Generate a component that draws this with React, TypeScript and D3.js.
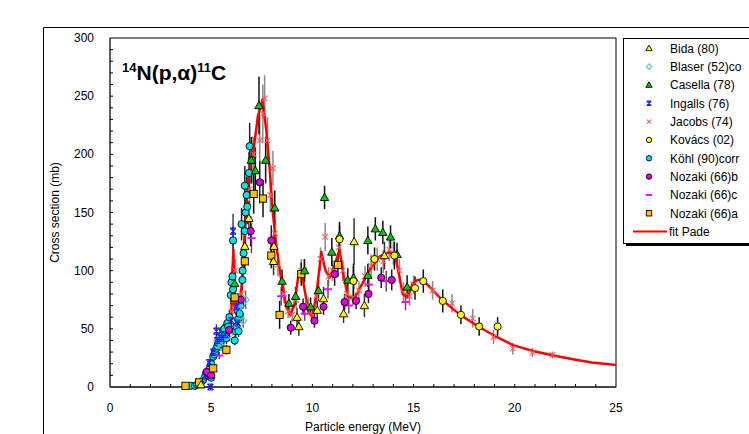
import React from "react";
import * as d3 from "d3";

// ---------- data ----------
const xTicks = [0, 5, 10, 15, 20, 25];
const yTicks = [0, 50, 100, 150, 200, 250, 300];

const fitE = [3.9, 4.2, 4.6, 5.1, 5.6, 6.0, 6.05, 6.1, 6.15, 6.3, 6.5, 6.66, 6.82, 7.07, 7.3, 7.53, 7.72, 7.89, 8.05, 8.22, 8.46, 8.71, 8.9, 9.1, 9.3, 9.45, 9.6, 9.8, 10.0, 10.2, 10.44, 10.65, 10.85, 11.1, 11.34, 11.55, 11.75, 12.0, 12.2, 12.5, 12.8, 13.3, 13.8, 14.1, 14.3, 14.46, 14.7, 14.95, 15.2, 15.45, 16.4, 17.3, 18.2, 19.1, 19.9, 20.9, 21.9, 22.8, 23.8, 25];
const fitS = [0, 1, 6, 23, 43, 63, 100, 118, 70, 58, 86, 135, 178, 201, 232, 247, 221, 187, 149, 121, 92, 69, 62, 70, 95, 100, 85, 65, 60, 80, 116, 100, 94, 105, 118, 95, 78, 76, 80, 90, 100, 112, 116, 112, 95, 80, 77, 89, 92, 92, 75, 62, 52, 43, 36, 31, 27, 24, 21, 19];

// [energy MeV, cross section mb, error mb]
const bida = [[4.5, 2, 1], [6.66, 121, 12], [6.86, 145, 15], [8.08, 108, 12], [8.1, 121, 12], [9.24, 60, 8], [9.33, 52, 8], [10.24, 66, 8], [10.55, 76, 10], [11.54, 63, 8], [12.06, 125, 20], [12.57, 70, 10], [13.56, 113, 12]];
const blaser = [[4.5, 5, 1], [5.3, 40, 4], [5.5, 35, 4], [5.9, 45, 5], [6.41, 69, 7], [6.58, 57, 6], [6.7, 75, 8]];
const casella = [[6.16, 89, 10], [6.98, 195, 20], [7.18, 186, 20], [7.36, 242, 25], [7.69, 195, 20], [8.14, 154, 15], [8.5, 91, 10], [8.84, 72, 8], [9.17, 78, 8], [9.61, 100, 10], [9.91, 69, 8], [10.3, 83, 9], [10.6, 163, 10], [10.96, 116, 12], [11.34, 130, 12], [11.75, 92, 10], [12.03, 94, 10], [12.74, 96, 10], [12.74, 126, 12], [13.11, 136, 10], [13.48, 133, 10], [13.86, 129, 10], [14.18, 114, 10], [14.68, 86, 10]];
const ingalls = [[4.5, 2, 1], [4.7, 10, 2], [4.9, 21, 3], [4.96, 0, 1], [5.1, 30, 4], [5.26, 48, 6], [5.3, 40, 5], [5.5, 42, 5], [5.7, 45, 5], [6.0, 57, 6], [6.08, 134, 15], [6.25, 69, 7], [6.3, 55, 5]];
const jacobs = [[5.9, 58, 5], [6.0, 65, 6], [6.1, 85, 8], [6.2, 100, 10], [6.5, 80, 8], [6.7, 120, 10], [6.9, 170, 15], [7.1, 200, 15], [7.4, 212, 20], [7.55, 235, 25], [7.64, 248, 20], [7.78, 212, 20], [7.92, 165, 15], [8.05, 188, 15], [8.15, 132, 12], [8.3, 105, 10], [8.6, 80, 8], [8.8, 65, 6], [9.0, 62, 6], [9.2, 75, 7], [9.45, 100, 10], [9.6, 100, 10], [9.8, 70, 7], [10.0, 62, 6], [10.2, 78, 7], [10.4, 110, 10], [10.63, 129, 12], [10.8, 95, 8], [11.0, 100, 9], [11.3, 120, 10], [11.5, 100, 9], [11.7, 80, 8], [12.0, 77, 7], [12.3, 83, 8], [12.6, 95, 9], [12.9, 104, 10], [13.2, 110, 10], [13.5, 108, 10], [13.8, 118, 10], [14.0, 115, 10], [14.3, 100, 10], [14.5, 82, 8], [14.8, 78, 8], [15.0, 88, 8], [15.94, 83, 8], [16.9, 72, 8], [17.92, 59, 8], [18.95, 43, 6], [19.9, 33, 5], [20.87, 29.5, 4], [21.86, 27.5, 3]];
const kovacs = [[11.34, 127, 12], [12.03, 91, 15], [13.07, 110, 10], [14.05, 113, 12], [15.07, 85, 10], [15.48, 91, 10], [16.44, 74, 10], [17.34, 62, 8], [18.24, 52, 8], [19.15, 52, 8]];
const kohl = [[4.0, 1, 0.5], [4.2, 1, 0.5], [4.3, 2, 1], [4.5, 4, 1], [4.6, 6, 1], [4.7, 9, 1], [4.8, 12, 2], [4.9, 15, 2], [5.0, 8, 2], [5.0, 20, 2], [5.1, 26, 3], [5.15, 28, 3], [5.2, 30, 3], [5.25, 33, 3], [5.3, 35, 4], [5.34, 38, 4], [5.42, 43, 4], [5.45, 37, 4], [5.5, 40, 4], [5.55, 45, 5], [5.59, 49, 5], [5.65, 50, 5], [5.7, 45, 5], [5.75, 42, 5], [5.8, 55, 5], [5.84, 52, 5], [5.9, 60, 6], [5.97, 79, 8], [6.0, 90, 9], [6.05, 95, 9], [6.08, 84, 8], [6.08, 126, 12], [6.16, 40, 4], [6.2, 48, 5], [6.25, 52, 5], [6.3, 66, 6], [6.33, 58, 6], [6.35, 48, 5], [6.41, 63, 6], [6.45, 70, 7], [6.5, 140, 14], [6.54, 92, 9], [6.55, 100, 10], [6.6, 115, 10], [6.66, 134, 13], [6.66, 173, 17], [6.7, 150, 15], [6.75, 165, 16], [6.78, 155, 15], [6.87, 184, 18], [6.9, 207, 20], [7.0, 195, 20]];
const nozakiB = [[4.77, 13, 2], [5.0, 10, 2], [5.89, 49, 5], [6.46, 75, 8], [6.95, 134, 13], [7.4, 176, 18], [7.97, 126, 13], [8.93, 51, 6], [9.54, 69, 7], [10.1, 57, 6], [10.55, 69, 7], [11.1, 97, 10], [11.59, 73, 7], [12.16, 74, 7], [12.77, 80, 8], [13.4, 94, 9], [13.92, 92, 9]];
const nozakiC = [[5.4, 27, 3], [6.99, 128, 13], [8.46, 78, 8], [9.62, 63, 6], [10.77, 84, 8], [11.8, 70, 7], [12.79, 88, 9], [13.65, 91, 9], [14.6, 73, 7]];
const nozakiA = [[3.73, 1, 0.5], [4.4, 4, 1], [5.1, 16, 2], [5.75, 32, 4], [6.16, 77, 8], [6.66, 108, 11], [7.1, 166, 17], [7.56, 162, 16], [7.97, 113, 11], [8.38, 62, 12], [9.45, 97, 10], [11.26, 105, 10]];

const legendLabels = ["Bida (80)", "Blaser (52)co", "Casella (78)", "Ingalls (76)", "Jacobs (74)", "Kovács (02)", "Köhl (90)corr", "Nozaki (66)b", "Nozaki (66)c", "Nozaki (66)a", "fit Pade"];

// ---------- layout ----------
const W = 749, H = 434;
const L = 110, R = 616, T = 38, B = 387;
const FONT = "'Liberation Sans', Arial, sans-serif";

type Kind = "triY" | "diamond" | "triG" | "ast" | "x" | "circY" | "circC" | "circM" | "dash" | "sq";

const seriesList: { data: number[][]; kind: Kind; bar: string }[] = [
  { data: jacobs, kind: "x", bar: "#8a8a8a" },
  { data: kohl, kind: "circC", bar: "#222" },
  { data: blaser, kind: "diamond", bar: "#666" },
  { data: ingalls, kind: "ast", bar: "#444" },
  { data: nozakiC, kind: "dash", bar: "#555" },
  { data: nozakiB, kind: "circM", bar: "#222" },
  { data: nozakiA, kind: "sq", bar: "#111" },
  { data: bida, kind: "triY", bar: "#333" },
  { data: casella, kind: "triG", bar: "#111" },
  { data: kovacs, kind: "circY", bar: "#111" },
];

function Marker({ kind, x, y, s = 1 }: { kind: Kind; x: number; y: number; s?: number }) {
  const r = 3.6 * s;
  switch (kind) {
    case "triY":
    case "triG": {
      const h = 4.2 * s;
      return (
        <path
          d={`M${x},${y - h}L${x + h},${y + h * 0.75}L${x - h},${y + h * 0.75}Z`}
          fill={kind === "triY" ? "#ffff00" : "#00cc00"}
          stroke="#000"
          strokeWidth={0.9}
        />
      );
    }
    case "diamond":
      return (
        <path
          d={`M${x},${y - r}L${x + r},${y}L${x},${y + r}L${x - r},${y}Z`}
          fill="none"
          stroke="#5fc8c8"
          strokeWidth={1.2}
        />
      );
    case "ast": {
      const a = 3 * s;
      return (
        <path
          d={`M${x - a},${y - a}L${x + a},${y + a}M${x + a},${y - a}L${x - a},${y + a}M${x - a},${y - a}L${x + a},${y - a}M${x - a},${y + a}L${x + a},${y + a}M${x},${y - a}L${x},${y + a}`}
          stroke="#1a1aff"
          strokeWidth={1.1}
          fill="none"
        />
      );
    }
    case "x": {
      const a = 2.8 * s;
      return (
        <path
          d={`M${x - a},${y - a}L${x + a},${y + a}M${x + a},${y - a}L${x - a},${y + a}`}
          stroke="#ff5a5a"
          strokeWidth={1.1}
          fill="none"
        />
      );
    }
    case "circY":
    case "circC":
    case "circM":
      return (
        <circle
          cx={x}
          cy={y}
          r={r}
          fill={kind === "circY" ? "#ffff00" : kind === "circC" ? "#00e5e5" : "#e000e0"}
          stroke="#000"
          strokeWidth={0.9}
        />
      );
    case "dash":
      return <line x1={x - 4 * s} x2={x + 4 * s} y1={y} y2={y} stroke="#ff00ff" strokeWidth={2} />;
    case "sq":
      return (
        <rect x={x - r} y={y - r} width={2 * r} height={2 * r} fill="#ffc000" stroke="#000" strokeWidth={0.9} />
      );
  }
  return null;
}

export default function App() {
  const x = d3.scaleLinear().domain([0, 25]).range([L, R]);
  const y = d3.scaleLinear().domain([0, 300]).range([B, T]);

  const fitPts: [number, number][] = fitE.map((e, i) => [e, fitS[i]]);
  const line = d3
    .line<[number, number]>()
    .x((d) => x(d[0]))
    .y((d) => y(d[1]));

  const minorX = d3.range(1, 25, 1);
  const minorY = d3.range(10, 300, 10);

  const legendKinds: Kind[] = ["triY", "diamond", "triG", "ast", "x", "circY", "circC", "circM", "dash", "sq"];
  const legY0 = 48.3, legDy = 18.33;

  return (
    <svg
      width={W}
      height={H}
      style={{ position: "absolute", left: 0, top: 0, background: "#fff" }}
      fontFamily={FONT}
    >
      <rect x={0} y={0} width={W} height={H} fill="#fff" />
      {/* outer frame */}
      <path d={`M43.5,${H}V27.5H${W}`} fill="none" stroke="#000" strokeWidth={1} />

      {/* plot frame */}
      <rect x={L} y={T} width={R - L} height={B - T} fill="#fff" stroke="#000" strokeWidth={1} />
      <line x1={L} x2={R} y1={B} y2={B} stroke="#333" strokeWidth={1.5} />
      <line x1={L} x2={L} y1={T} y2={B} stroke="#555" strokeWidth={1.5} />

      {/* ticks */}
      {minorX.map((t) => (
        <line key={"tx" + t} x1={x(t)} x2={x(t)} y1={B} y2={B - 3} stroke="#000" strokeWidth={1} />
      ))}
      {minorY.map((t) => (
        <line key={"ty" + t} x1={L} x2={L + 3} y1={y(t)} y2={y(t)} stroke="#000" strokeWidth={1} />
      ))}

      {/* tick labels */}
      {xTicks.map((t) => (
        <text key={"lx" + t} x={x(t)} y={412} fontSize={12} textAnchor="middle" fill="#000">
          {t}
        </text>
      ))}
      {yTicks.map((t) => (
        <text key={"ly" + t} x={94} y={y(t) + 4} fontSize={12} textAnchor="end" fill="#000">
          {t}
        </text>
      ))}

      {/* axis titles */}
      <text x={(L + R) / 2} y={431} fontSize={12} textAnchor="middle" fill="#000">
        Particle energy (MeV)
      </text>
      <text
        transform={`translate(59,${(T + B) / 2}) rotate(-90)`}
        fontSize={12}
        textAnchor="middle"
        fill="#000"
      >
        Cross section (mb)
      </text>

      {/* title */}
      <text x={122} y={80} fontSize={21} fontWeight="bold" fill="#000">
        <tspan fontSize={13} dy={-8}>14</tspan>
        <tspan dy={8}>N(p,α)</tspan>
        <tspan fontSize={13} dy={-8}>11</tspan>
        <tspan dy={8}>C</tspan>
      </text>

      {/* error bars */}
      {seriesList.map((s, si) =>
        s.data.map((d, i) => (
          <line
            key={`e${si}-${i}`}
            x1={x(d[0])}
            x2={x(d[0])}
            y1={y(Math.max(0, d[1] - d[2]))}
            y2={y(d[1] + d[2])}
            stroke={s.bar}
            strokeWidth={1.5}
          />
        ))
      )}

      {/* fit line */}
      <path d={line(fitPts) || ""} fill="none" stroke="#ff0000" strokeWidth={2.5} strokeLinejoin="round" />

      {/* markers */}
      {seriesList.map((s, si) =>
        s.data.map((d, i) => <Marker key={`m${si}-${i}`} kind={s.kind} x={x(d[0])} y={y(d[1])} />)
      )}

      {/* legend */}
      <rect x={626} y={41} width={130} height={205} fill="#000" />
      <rect x={623.5} y={38.5} width={130} height={205} fill="#fff" stroke="#000" strokeWidth={1} />
      {legendLabels.map((lab, i) => {
        const ly = legY0 + i * legDy;
        return (
          <g key={"lg" + i}>
            {i < 10 ? (
              <Marker kind={legendKinds[i]} x={649} y={ly} s={0.75} />
            ) : (
              <line x1={633} x2={667} y1={ly} y2={ly} stroke="#ff0000" strokeWidth={2} />
            )}
            <text x={i < 10 ? 670 : 669} y={ly + 4.5} fontSize={12} fill="#000">
              {lab}
            </text>
          </g>
        );
      })}
    </svg>
  );
}
